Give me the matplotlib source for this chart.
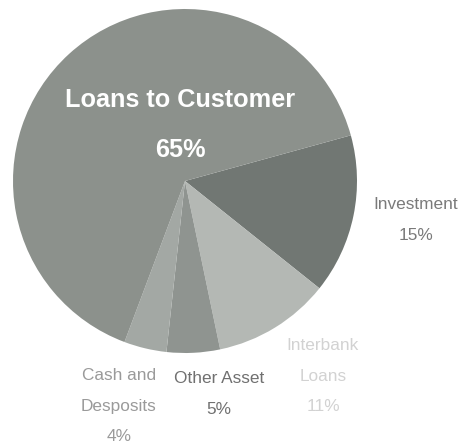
import numpy as np
from matplotlib import pyplot as plt

plt.rcParams['font.family'] = ['Liberation Sans', 'DejaVu Sans']

# pie data, clockwise from the Investment slice
labels = ['Investment', 'Interbank\nLoans', 'Other Asset', 'Cash and\nDesposits', 'Loans to Customer']
shares = [15, 11, 5, 4, 65]
colors = ['#717773', '#b4b8b4', '#8f9490', '#a3a8a4', '#8c918c']
text_colors = ['#7a7a7a', '#d2d2d2', '#707070', '#9a9a9a', 'white']

fig = plt.figure(figsize=(4.64, 4.48), dpi=100)
ax = fig.add_axes([0, 0, 1, 1])

ax.pie(shares, colors=colors, startangle=15.4, counterclock=False,
       radius=1.0, center=(0, 0))

ax.set_xlim(-185 / 172, (464 - 185) / 172)
ax.set_ylim((181 - 448) / 172, 181 / 172)
ax.set_aspect('equal')
ax.axis('off')


def px(x, y):
    return (x - 185) / 172, (181 - y) / 172


# outside labels (name + percent)
label_pos = [(416, 220), (323, 376), (219, 394), (119, 406)]
for i, (lx, ly) in enumerate(label_pos):
    txt = labels[i] + '\n' + str(shares[i]) + '%'
    x, y = px(lx, ly)
    ax.text(x, y, txt, ha='center', va='center', fontsize=12.4,
            color=text_colors[i], linespacing=2.3)

# big label inside
x, y = px(180, 100)
ax.text(x, y, labels[4], ha='center', va='center', fontsize=18.2,
        fontweight='bold', color=text_colors[4])
x, y = px(180, 150)
ax.text(x, y, str(shares[4]) + '%', ha='center', va='center', fontsize=18.2,
        fontweight='bold', color=text_colors[4])

plt.savefig('out.png', dpi=100)
